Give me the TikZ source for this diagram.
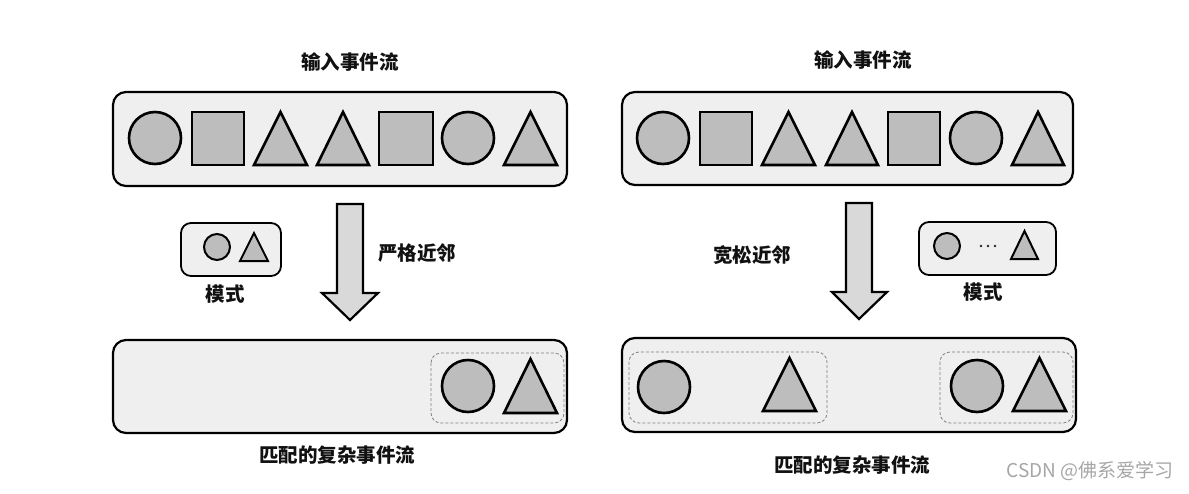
\documentclass[tikz,border=0pt]{standalone}
\usepackage{fontspec}
\newfontfamily\cjk{Noto Sans CJK SC}
\definecolor{boxfill}{HTML}{EFEFEF}
\definecolor{shpfill}{HTML}{BDBDBD}
\definecolor{arrfill}{HTML}{D9D9D9}
\definecolor{txt}{HTML}{111111}
\tikzset{
  bigbox/.style={draw=black, line width=2.2pt, fill=boxfill, rounded corners=13pt},
  patbox/.style={draw=black, line width=1.8pt, fill=boxfill, rounded corners=10pt},
  dashbox/.style={draw=gray, line width=0.8pt, dash pattern=on 3pt off 2pt, rounded corners=10pt},
  shp/.style={draw=black, line width=2.6pt, fill=shpfill, line join=miter},
  smallshp/.style={draw=black, line width=2pt, fill=shpfill},
  bigarrow/.style={draw=black, line width=2.2pt, fill=arrfill, line join=miter},
  lbl/.style={font=\cjk\bfseries\fontsize{19.5}{22}\selectfont, text=txt, inner sep=0pt},
  wm/.style={font=\cjk\fontsize{19}{21}\selectfont, text=gray!70, inner sep=0pt, anchor=east}
}
\newcommand\mytri[5][shp]{\draw[#1] (#2,#4) -- (#3,#4) -- ({(#2+#3)/2},#5) -- cycle;}
\newcommand\mysq[4]{\draw[shp] (#1,#3) rectangle (#2,#4);}
\newcommand\mycirc[4][shp]{\draw[#1] (#2,#3) circle[radius=#4];}
\begin{document}
\begin{tikzpicture}[x=1pt,y=-1pt]
\useasboundingbox (0,0) rectangle (1189,493);
% ---------- left ----------
\node[lbl] (tl) at (350,62) {输入事件流};
\draw[bigbox] (113,92) rectangle (567,186);
\mycirc{155}{138}{26}
\mysq{192}{244}{112}{165}
\mytri{254}{307}{165}{112}
\mytri{317}{369}{165}{112}
\mysq{379}{433}{112}{165}
\mycirc{468}{138}{26}
\mytri{504}{557}{165}{112}

\draw[patbox] (181,223) rectangle (281,276);
\mycirc[smallshp]{217}{247}{13}
\mytri[smallshp]{240}{268}{261}{233}
\node[lbl] (pl) at (225,294) {模式};

\draw[bigarrow] (337,204) -- (363,204) -- (363,293) -- (378,293) -- (350,320) -- (322,293) -- (337,293) -- cycle;
\node[lbl] (sl) at (417,253) {严格近邻};

\draw[bigbox] (113,340) rectangle (567,433);
\draw[dashbox] (431,353) rectangle (564,423);
\mycirc{468}{386}{26}
\mytri{504}{557}{413}{359}
\node[lbl] (bl) at (337,455) {匹配的复杂事件流};

% ---------- right ----------
\node[lbl] (tr) at (863,60) {输入事件流};
\draw[bigbox] (622,92) rectangle (1073,185);
\mycirc{663}{138}{26}
\mysq{700}{752}{112}{165}
\mytri{762}{815}{165}{112}
\mytri{826}{878}{165}{112}
\mysq{888}{940}{112}{165}
\mycirc{976}{138}{26}
\mytri{1012}{1064}{165}{112}

\draw[patbox] (919,222) rectangle (1056,275);
\mycirc[smallshp]{947}{246}{13}
\foreach \dx in {981,988,995} \fill[black!85] (\dx,246) circle[radius=1.4];
\mytri[smallshp]{1011}{1038}{259}{231}
\node[lbl] (pr) at (983,292) {模式};

\draw[bigarrow] (846,203) -- (872,203) -- (872,292) -- (887,292) -- (859,319) -- (832,292) -- (846,292) -- cycle;
\node[lbl] (sr) at (752,255) {宽松近邻};

\draw[bigbox] (622,338) rectangle (1076,432);
\draw[dashbox] (629,352) rectangle (827,423);
\draw[dashbox] (940,352) rectangle (1073,423);
\mycirc{664}{387}{26}
\mytri{763}{816}{411}{358}
\mycirc{977}{386}{26}
\mytri{1013}{1066}{411}{358}
\node[lbl] (br) at (852,465) {匹配的复杂事件流};

\node[wm] (wmk) at (1174,471) {CSDN @佛系爱学习};
\end{tikzpicture}
\end{document}
